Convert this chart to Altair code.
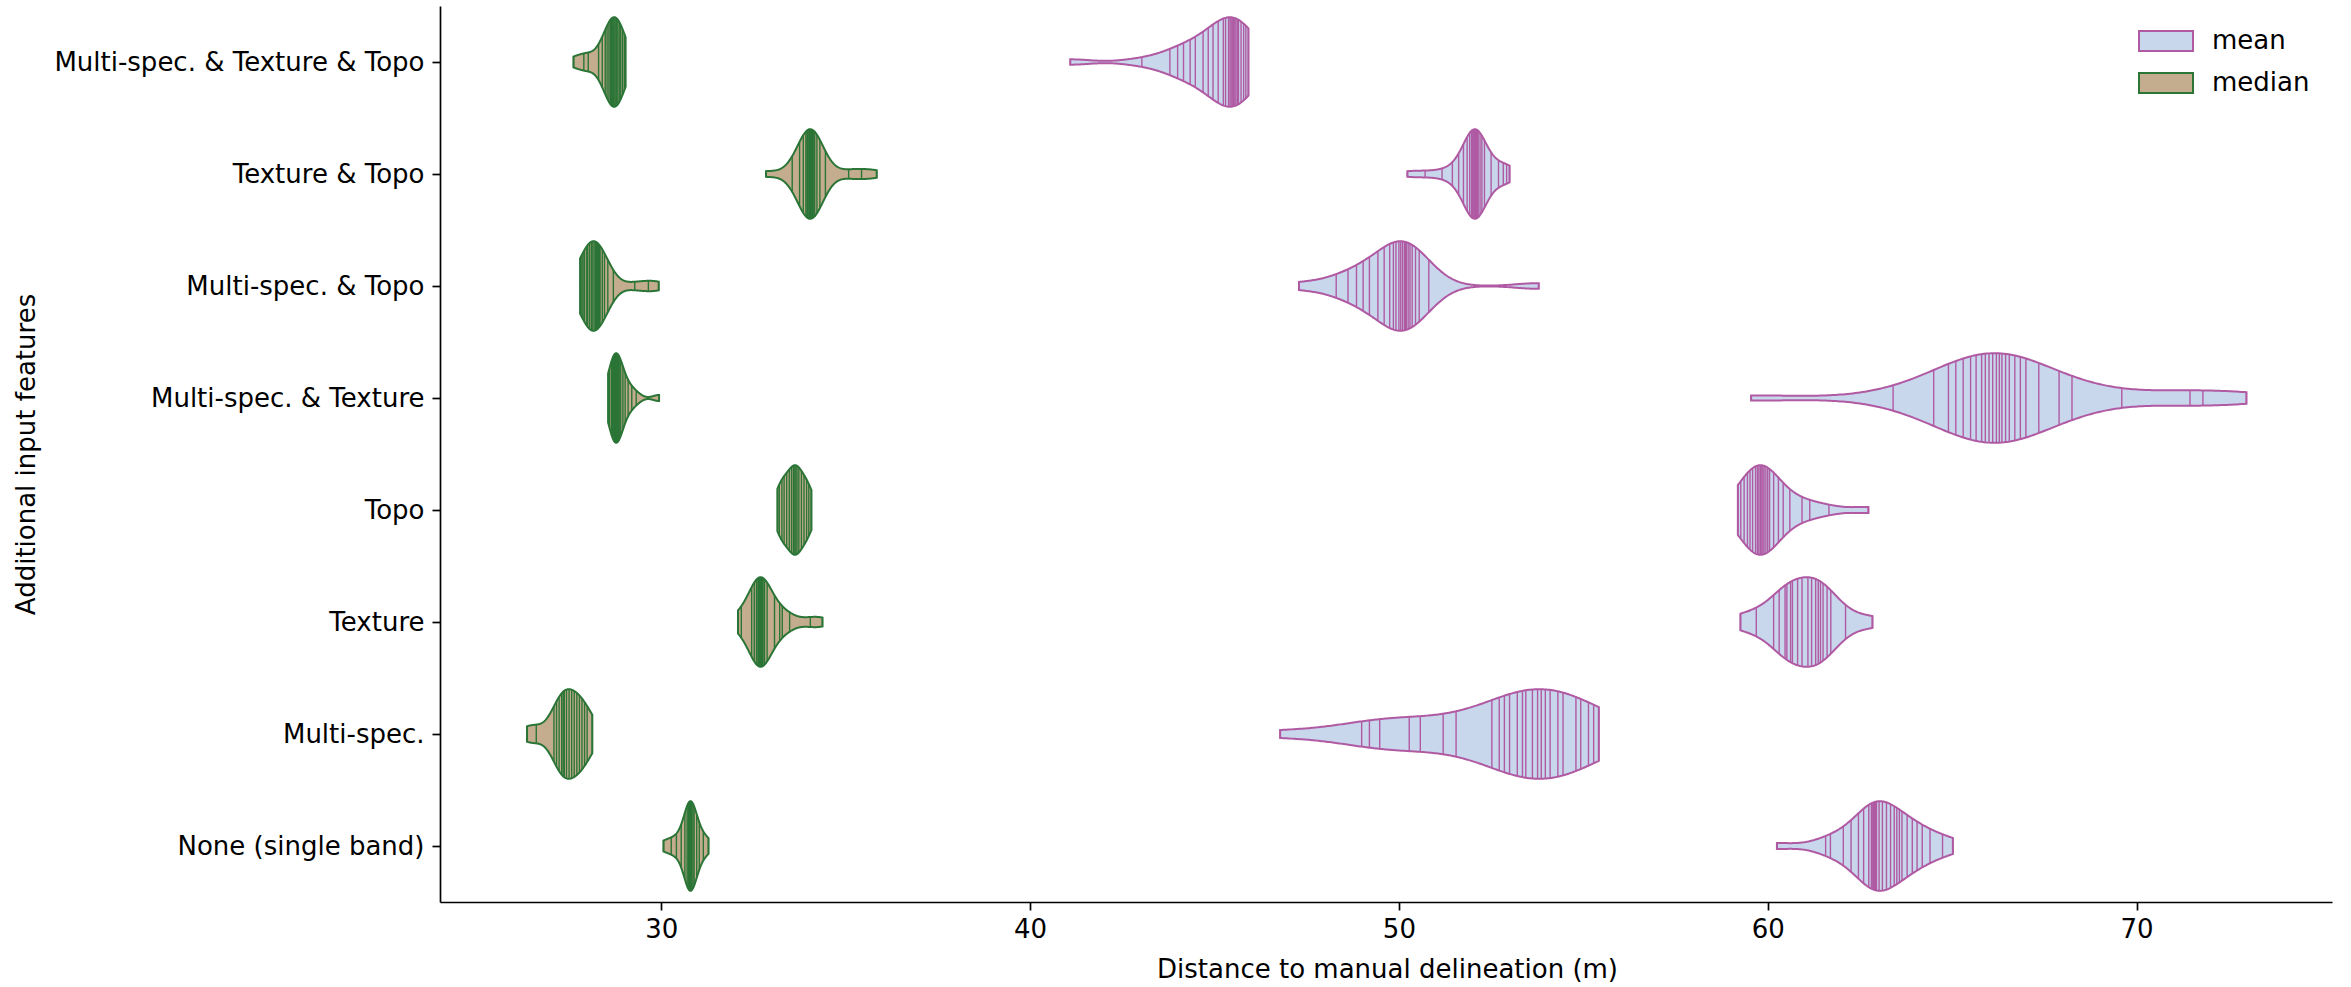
import json
import altair as alt
import pandas as pd

# Categories, top to bottom
categories = [
    "Multi-spec. & Texture & Topo",
    "Texture & Topo",
    "Multi-spec. & Topo",
    "Multi-spec. & Texture",
    "Topo",
    "Texture",
    "Multi-spec.",
    "None (single band)",
]
stats = ["mean", "median"]

mtt_median = [27.62, 27.9, 28.02, 28.3, 28.4, 28.48, 28.53, 28.58, 28.62, 28.65, 28.67, 28.7,
              28.72, 28.75, 28.78, 28.82, 28.86, 28.9, 28.95, 29.0, 29.03]
mtt_mean = [41.09, 43.03, 43.79, 44.0, 44.16, 44.34, 44.48, 44.69, 44.83, 44.96, 45.1, 45.24,
            45.3, 45.38, 45.42, 45.45, 45.48, 45.51, 45.55, 45.58, 45.62, 45.65, 45.72, 45.79,
            45.85, 45.92]
tt_median = [32.84, 33.55, 33.75, 33.85, 33.92, 33.95, 33.97, 34.0, 34.0, 34.02, 34.03, 34.05,
             34.05, 34.06, 34.08, 34.1, 34.12, 34.16, 34.22, 34.3, 34.45, 35.08, 35.43, 35.84]
tt_mean = [50.23, 50.71, 51.17, 51.45, 51.62, 51.75, 51.85, 51.92, 51.97, 51.98, 52.0, 52.0,
           52.03, 52.03, 52.05, 52.06, 52.07, 52.08, 52.1, 52.1, 52.12, 52.13, 52.15, 52.2,
           52.25, 52.32, 52.5, 52.7, 52.83, 52.92, 53.0]
mst_median = [27.8, 27.82, 27.85, 27.88, 27.92, 27.98, 28.0, 28.05, 28.1, 28.12, 28.15, 28.2,
              28.22, 28.24, 28.27, 28.28, 28.3, 28.32, 28.34, 28.4, 28.46, 28.55, 28.7, 29.28,
              29.65, 29.93]
mst_mean = [47.29, 48.3, 48.62, 48.85, 49.03, 49.2, 49.43, 49.6, 49.75, 49.85, 49.92, 50.0,
            50.05, 50.1, 50.15, 50.18, 50.2, 50.25, 50.3, 50.36, 50.45, 50.55, 50.81, 53.79]
mstx_median = [28.56, 28.6, 28.65, 28.68, 28.7, 28.73, 28.74, 28.76, 28.77, 28.78, 28.79, 28.8,
               28.82, 28.84, 28.86, 28.9, 28.96, 29.02, 29.1, 29.2, 29.32, 29.94]
mstx_mean = [59.55, 63.4, 64.5, 64.9, 65.1, 65.3, 65.5, 65.65, 65.8, 65.9, 66.0, 66.1, 66.2,
             66.28, 66.35, 66.45, 66.55, 66.7, 66.85, 67.0, 67.35, 67.9, 68.25, 69.6, 71.45,
             71.8, 72.98]
topo_median = [33.15, 33.2, 33.27, 33.33, 33.4, 33.47, 33.53, 33.58, 33.62, 33.65, 33.68, 33.73,
               33.8, 33.87, 33.94, 34.0, 34.07]
topo_mean = [59.19, 59.27, 59.36, 59.45, 59.52, 59.59, 59.67, 59.72, 59.76, 59.8, 59.84, 59.87,
             59.9, 59.95, 60.0, 60.05, 60.16, 60.29, 60.42, 60.6, 60.93, 61.14, 61.66, 62.73]
tex_median = [32.08, 32.17, 32.45, 32.52, 32.58, 32.62, 32.64, 32.66, 32.68, 32.69, 32.7, 32.71,
              32.72, 32.74, 32.76, 32.8, 32.87, 33.07, 33.21, 33.28, 33.48, 34.04, 34.37]
tex_mean = [59.26, 59.69, 60.16, 60.31, 60.47, 60.52, 60.62, 60.67, 60.81, 60.93, 61.09, 61.19,
            61.3, 61.37, 61.43, 61.5, 61.61, 61.71, 62.11, 62.84]
ms_median = [26.36, 26.61, 27.09, 27.16, 27.23, 27.3, 27.34, 27.37, 27.43, 27.5, 27.57, 27.64,
             27.71, 27.78, 27.85, 27.92, 27.99, 28.13]
ms_mean = [46.78, 48.99, 49.2, 49.48, 50.28, 50.58, 51.2, 51.55, 52.52, 52.72, 52.86, 53.0,
           53.21, 53.35, 53.44, 53.62, 53.76, 53.86, 53.97, 54.1, 54.31, 54.45, 54.8, 54.93,
           55.14, 55.28, 55.42]
none_median = [30.06, 30.27, 30.41, 30.54, 30.64, 30.7, 30.73, 30.75, 30.76, 30.78, 30.79, 30.8,
               30.81, 30.83, 30.86, 30.89, 30.96, 31.03, 31.14, 31.28]
none_mean = [60.25, 61.57, 61.7, 62.05, 62.26, 62.46, 62.6, 62.74, 62.81, 62.85, 62.86, 62.88,
             62.9, 62.92, 62.95, 63.02, 63.11, 63.22, 63.33, 63.43, 63.5, 63.57, 63.64, 63.78,
             63.92, 64.05, 64.19, 64.4, 64.74, 65.02]

series = {
    ("Multi-spec. & Texture & Topo", "mean"): mtt_mean,
    ("Multi-spec. & Texture & Topo", "median"): mtt_median,
    ("Texture & Topo", "mean"): tt_mean,
    ("Texture & Topo", "median"): tt_median,
    ("Multi-spec. & Topo", "mean"): mst_mean,
    ("Multi-spec. & Topo", "median"): mst_median,
    ("Multi-spec. & Texture", "mean"): mstx_mean,
    ("Multi-spec. & Texture", "median"): mstx_median,
    ("Topo", "mean"): topo_mean,
    ("Topo", "median"): topo_median,
    ("Texture", "mean"): tex_mean,
    ("Texture", "median"): tex_median,
    ("Multi-spec.", "mean"): ms_mean,
    ("Multi-spec.", "median"): ms_median,
    ("None (single band)", "mean"): none_mean,
    ("None (single band)", "median"): none_median,
}

fill_colors = ["#c8d7ec", "#c3ad8e"]
edge_colors = ["#b05aa3", "#2b7537"]

n_cat = len(categories)
rows = []
for (feat, stat), vals in series.items():
    pos = n_cat - 1 - categories.index(feat)
    for v in vals:
        rows.append({"feature": feat, "stat": stat, "pos": pos, "v": v})
df = pd.DataFrame(rows)

label_list = json.dumps(list(reversed(categories)))
FONT = "DejaVu Sans"
FS = 26

base = (
    alt.Chart(df)
    .transform_aggregate(
        obs="values(v)", vmin="min(v)", vmax="max(v)", sd="stdev(v)", n="count()",
        groupby=["feature", "stat", "pos"],
    )
    .transform_calculate(
        bw="datum.sd * pow(datum.n, -0.2)",
        pts="[sequence(-201, 0), pluck(datum.obs, 'v')]",
    )
    .transform_flatten(["pts"])
    .transform_flatten(["pts"])
    .transform_calculate(
        k="datum.pts < 0 ? 0 : 1",
        x="datum.pts < 0 ? datum.vmin + (datum.pts + 201) * (datum.vmax - datum.vmin) / 200 : datum.pts",
        ov="pluck(datum.obs, 'v')",
    )
    .transform_flatten(["ov"])
    .transform_calculate(
        kern="exp(-0.5 * pow((datum.x - datum.ov) / datum.bw, 2)) / datum.bw"
    )
    .transform_aggregate(dens="mean(kern)", groupby=["feature", "stat", "pos", "k", "x"])
    .transform_calculate(dg="datum.k == 0 ? datum.dens : 0")
    .transform_joinaggregate(dmax="max(dg)", groupby=["feature", "stat"])
    .transform_calculate(
        ylo="datum.pos - 0.4 * datum.dens / datum.dmax",
        yhi="datum.pos + 0.4 * datum.dens / datum.dmax",
    )
)

xscale = alt.Scale(domain=[24.0, 75.3], nice=False, zero=False)
yscale = alt.Scale(domain=[-0.5, n_cat - 0.5], nice=False, zero=False)

xaxis = alt.Axis(values=[30, 40, 50, 60, 70], format="d", title="Distance to manual delineation (m)",
                 tickSize=8, labelPadding=6, titleX=947, titleY=67, titleBaseline="middle",
                 titleAlign="center")
yaxis = alt.Axis(values=list(range(n_cat)), labelExpr=f"{label_list}[datum.value]",
                 title="Additional input features", tickSize=8, labelPadding=8,
                 labelLimit=600, titleX=-414, titleY=448, titleAngle=270,
                 titleBaseline="middle", titleAlign="center")

legend = alt.Legend(
    title=None, orient="none", legendX=1698, legendY=7,
    symbolType="M-1,-0.37L1,-0.37L1,0.37L-1,0.37Z", symbolSize=2916, symbolStrokeWidth=2,
    labelFont=FONT, labelFontSize=FS, labelColor="black", labelOffset=18, rowPadding=-2,
    padding=0,
)

area = base.transform_filter("datum.k == 0").mark_area(orient="vertical", strokeWidth=2, opacity=1).encode(
    x=alt.X("x:Q", scale=xscale, axis=xaxis),
    y=alt.Y("ylo:Q", scale=yscale, axis=yaxis),
    y2="yhi:Q",
    fill=alt.Fill("stat:N", scale=alt.Scale(domain=stats, range=fill_colors), legend=legend),
    stroke=alt.Stroke("stat:N", scale=alt.Scale(domain=stats, range=edge_colors), legend=legend),
    detail="feature:N",
)

sticks = base.transform_filter("datum.k == 1").mark_rule(strokeWidth=1.4).encode(
    x=alt.X("x:Q", scale=xscale),
    y=alt.Y("ylo:Q", scale=yscale),
    y2="yhi:Q",
    stroke=alt.Stroke("stat:N", scale=alt.Scale(domain=stats, range=edge_colors), legend=legend),
    detail="feature:N",
)

chart = (
    alt.layer(area, sticks)
    .properties(
        width=1892, height=896,
        padding={"left": 440, "top": 6, "right": 19, "bottom": 85},
        autosize=alt.AutoSizeParams(type="none"),
        background="white",
    )
    .configure_view(stroke=None)
    .configure_axis(
        grid=False, domainColor="black", domainWidth=1.7, tickColor="black", tickWidth=1.7,
        labelFont=FONT, labelFontSize=FS, labelColor="black",
        titleFont=FONT, titleFontSize=FS, titleFontWeight="normal", titleColor="black",
    )
)

chart.save("out.html", embed_options={"renderer": "svg", "actions": False})
